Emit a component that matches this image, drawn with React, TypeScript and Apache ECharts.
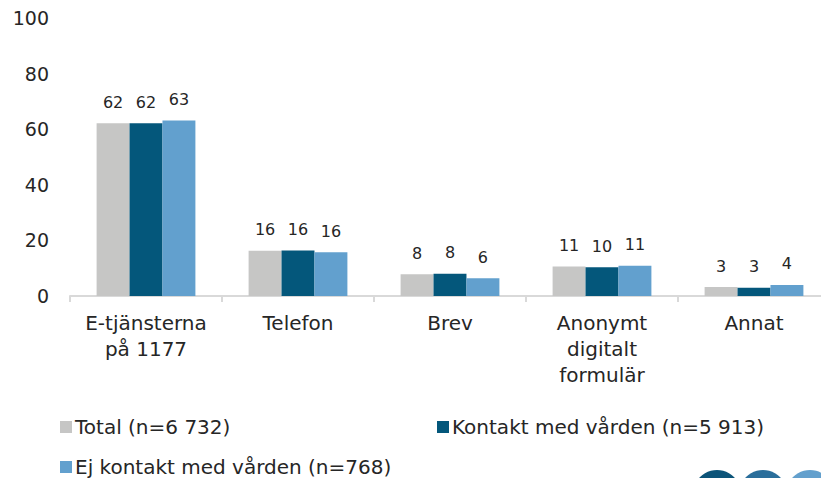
import React, { useEffect, useRef } from "react";
import * as echarts from "echarts";

const categories = ["E-tjänsterna\npå 1177", "Telefon", "Brev", "Anonymt\ndigitalt\nformulär", "Annat"];
const seriesNames = ["Total (n=6 732)", "Kontakt med vården (n=5 913)", "Ej kontakt med vården (n=768)"];
const totalValues = [62.1, 16.3, 7.8, 10.6, 3.2];
const kontaktValues = [62.1, 16.4, 8.0, 10.3, 3.0];
const ejKontaktValues = [63.1, 15.7, 6.4, 10.9, 4.0];
const yTicks = { min: 0, max: 100, interval: 20 };
const colors = ["#C6C6C5", "#04577B", "#62A0CE"];
const FONT = "DejaVu Sans";

export default function App() {
  const ref = useRef<HTMLDivElement>(null);
  useEffect(() => {
    if (!ref.current) return;
    const chart = echarts.init(ref.current, null, { renderer: "svg" });
    const values = [totalValues, kontaktValues, ejKontaktValues];
    const legendPos = [
      { left: 55, top: 412 },
      { left: 432, top: 412 },
      { left: 55, top: 452 },
    ];
    chart.setOption({
      animation: false,
      textStyle: { fontFamily: FONT },
      grid: { left: 70, width: 760, top: 18, bottom: 182, outerBoundsMode: "none", containLabel: false },
      legend: seriesNames.map((n, i) => ({
        data: [n],
        left: legendPos[i].left,
        top: legendPos[i].top,
        icon: "rect",
        itemWidth: 12,
        itemHeight: 12,
        itemGap: 4,
        textStyle: { fontFamily: FONT, fontSize: 20, color: "#262626", padding: [0, 0, 0, -2] },
        selectedMode: false,
      })),
      xAxis: {
        type: "category",
        data: categories,
        axisLine: { lineStyle: { color: "#D9D9D9", width: 2 } },
        axisTick: { show: true, length: 6, lineStyle: { color: "#D9D9D9", width: 2 } },
        axisLabel: {
          interval: 0,
          margin: 14,
          fontFamily: FONT,
          fontSize: 20,
          lineHeight: 26,
          color: "#262626",
          align: "center",
        },
      },
      yAxis: {
        type: "value",
        min: yTicks.min,
        max: yTicks.max,
        interval: yTicks.interval,
        axisLine: { show: false },
        axisTick: { show: false },
        splitLine: { show: false },
        axisLabel: { margin: 21, fontFamily: FONT, fontSize: 19, color: "#262626" },
      },
      series: seriesNames.map((n, i) => ({
        name: n,
        type: "bar",
        data: values[i],
        barGap: "0%",
        barCategoryGap: "35%",
        itemStyle: { color: colors[i] },
        label: {
          show: true,
          position: "top",
          distance: 13,
          fontFamily: FONT,
          fontSize: 16,
          color: "#262626",
          formatter: (p: any) => String(Math.round(p.value)),
        },
      })),
      graphic: [
        { type: "circle", shape: { cx: 717, cy: 494, r: 24 }, style: { fill: "#0C5479" } },
        { type: "circle", shape: { cx: 763, cy: 494, r: 24 }, style: { fill: "#2A6E9B" } },
        { type: "circle", shape: { cx: 810, cy: 494, r: 24 }, style: { fill: "#63A0CD" } },
      ],
    });
    return () => chart.dispose();
  }, []);
  return (
    <div
      ref={ref}
      style={{ position: "fixed", left: 0, top: 0, width: 821, height: 478, background: "#fff" }}
    />
  );
}
